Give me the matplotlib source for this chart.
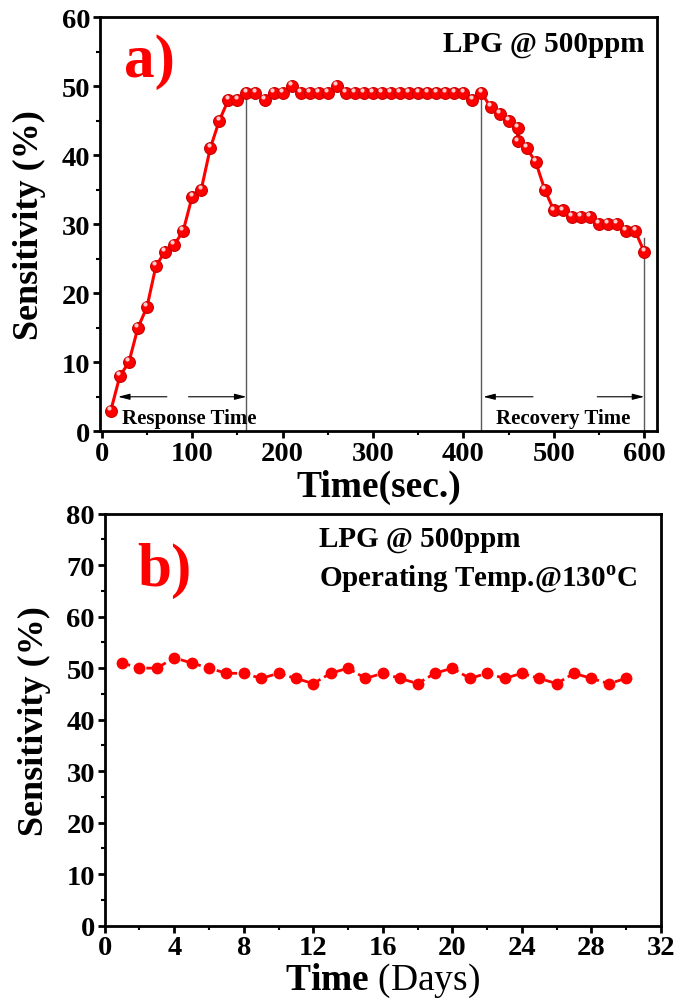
import numpy as np
import matplotlib.pyplot as plt
import matplotlib.transforms as mtransforms
from matplotlib.ticker import MultipleLocator

plt.rcParams["font.family"] = "Liberation Serif"
plt.rcParams["font.weight"] = "bold"
plt.rcParams["mathtext.fontset"] = "custom"
plt.rcParams["mathtext.rm"] = "Liberation Serif"
plt.rcParams["mathtext.bf"] = "Liberation Serif:bold"

# panel a) response / recovery curve
time_sec = [10, 20, 30, 40, 50, 60, 70, 80, 90, 100,
            110, 120, 130, 140, 150, 160, 170, 180, 190, 200,
            210, 220, 230, 240, 250, 260, 270, 280, 290, 300,
            310, 320, 330, 340, 350, 360, 370, 380, 390, 400,
            410, 420, 430, 440, 450, 460, 460, 470, 480, 490,
            500, 510, 520, 530, 540, 550, 560, 570, 580, 590, 600]
sens_a = [3, 8, 10, 15, 18, 24, 26, 27, 29, 34,
          35, 41, 45, 48, 48, 49, 49, 48, 49, 49,
          50, 49, 49, 49, 49, 50, 49, 49, 49, 49,
          49, 49, 49, 49, 49, 49, 49, 49, 49, 49,
          48, 49, 47, 46, 45, 44, 42, 41, 39, 35,
          32, 32, 31, 31, 31, 30, 30, 30, 29, 29, 26]

# marker lines: (x, top)
response_start = 160
recovery_start = 420
recovery_end = 600
line_tops = [49, 49, 28]

# panel b) stability
days = [1, 2, 3, 4, 5, 6, 7, 8, 9, 10,
        11, 12, 13, 14, 15, 16, 17, 18, 19, 20,
        21, 22, 23, 24, 25, 26, 27, 28, 29, 30]
sens_b = [51, 50, 50, 52, 51, 50, 49, 49, 48, 49,
          48, 47, 49, 50, 48, 49, 48, 47, 49, 50,
          48, 49, 48, 49, 48, 47, 49, 48, 47, 48]

RED = "#ff0000"

fig = plt.figure(figsize=(6.8, 10.03), dpi=100)
ax_a = fig.add_axes([0.147, 0.569, 0.819, 0.413])
ax_b = fig.add_axes([0.154, 0.076, 0.818, 0.411])


def style_axis(ax):
    for s in ax.spines.values():
        s.set_linewidth(2)
    ax.tick_params(which="major", direction="out", length=5, width=2,
                   labelsize=20.5, pad=2)
    ax.tick_params(which="minor", direction="out", length=3, width=1.5)
    for lab in ax.get_xticklabels() + ax.get_yticklabels():
        lab.set_fontweight("bold")


# ---- panel a ----
ax_a.plot(time_sec, sens_a, "-o", color=RED, lw=2.2, ms=8.5,
          markeredgecolor="#c80000", markeredgewidth=0.8, zorder=3)
hl = mtransforms.offset_copy(ax_a.transData, fig=fig, x=-1.2, y=2.0,
                             units="points")
ax_a.plot(time_sec, sens_a, "o", color="white", ms=3, alpha=0.8,
          mec="none", transform=hl, zorder=4)

for xv, top in zip([response_start, recovery_start, recovery_end], line_tops):
    ax_a.plot([xv, xv], [0, top], color="0.35", lw=1, zorder=2)

arrow = dict(arrowstyle="-|>,head_length=0.7,head_width=0.18",
             color="k", lw=0.8, shrinkA=0, shrinkB=0)
ax_a.annotate("", xy=(18, 5), xytext=(72, 5), arrowprops=arrow)
ax_a.annotate("", xy=(response_start, 5), xytext=(96, 5), arrowprops=arrow)
ax_a.annotate("", xy=(recovery_start + 2, 5), xytext=(477, 5), arrowprops=arrow)
ax_a.annotate("", xy=(recovery_end, 5), xytext=(548, 5), arrowprops=arrow)
ax_a.text(22, 1.9, "Response Time", fontsize=15, fontweight="bold",
          ha="left", va="center")
ax_a.text(510, 1.9, "Recovery Time", fontsize=15, fontweight="bold",
          ha="center", va="center")

ax_a.text(0.088, 0.894, "a)", transform=ax_a.transAxes, color=RED,
          fontsize=44, fontweight="bold", ha="center", va="center")
ax_a.text(0.978, 0.935, "LPG @ 500ppm", transform=ax_a.transAxes,
          fontsize=21, fontweight="bold", ha="right", va="center")

ax_a.set_xlim(-2, 614)
ax_a.set_ylim(0, 60)
ax_a.xaxis.set_major_locator(MultipleLocator(100))
ax_a.xaxis.set_minor_locator(MultipleLocator(50))
ax_a.yaxis.set_major_locator(MultipleLocator(10))
ax_a.yaxis.set_minor_locator(MultipleLocator(5))
ax_a.set_xlabel("Time(sec.)", fontsize=27, fontweight="bold", labelpad=2)
ax_a.set_ylabel("Sensitivity (%)", fontsize=26, fontweight="bold", labelpad=11)
style_axis(ax_a)

# ---- panel b ----
ax_b.plot(days, sens_b, "--o", color=RED, lw=2, ms=8.5, mec="none",
          dashes=(3, 1.5))
ax_b.text(0.108, 0.862, "b)", transform=ax_b.transAxes, color=RED,
          fontsize=44, fontweight="bold", ha="center", va="center")
ax_b.text(0.385, 0.939, "LPG @ 500ppm", transform=ax_b.transAxes,
          fontsize=21, fontweight="bold", ha="left", va="center")
ax_b.text(0.385, 0.842, r"Operating Temp.@130$^{\mathbf{o}}$C",
          transform=ax_b.transAxes, fontsize=21, fontweight="bold",
          ha="left", va="center")

ax_b.set_xlim(0, 32)
ax_b.set_ylim(0, 80)
ax_b.xaxis.set_major_locator(MultipleLocator(4))
ax_b.xaxis.set_minor_locator(MultipleLocator(2))
ax_b.yaxis.set_major_locator(MultipleLocator(10))
ax_b.yaxis.set_minor_locator(MultipleLocator(5))
ax_b.set_xlabel(r"$\mathbf{Time}$ (Days)", fontsize=27, fontweight="normal",
                labelpad=0)
ax_b.set_ylabel("Sensitivity (%)", fontsize=26, fontweight="bold", labelpad=11)
style_axis(ax_b)

fig.savefig("out.png", dpi=100)
